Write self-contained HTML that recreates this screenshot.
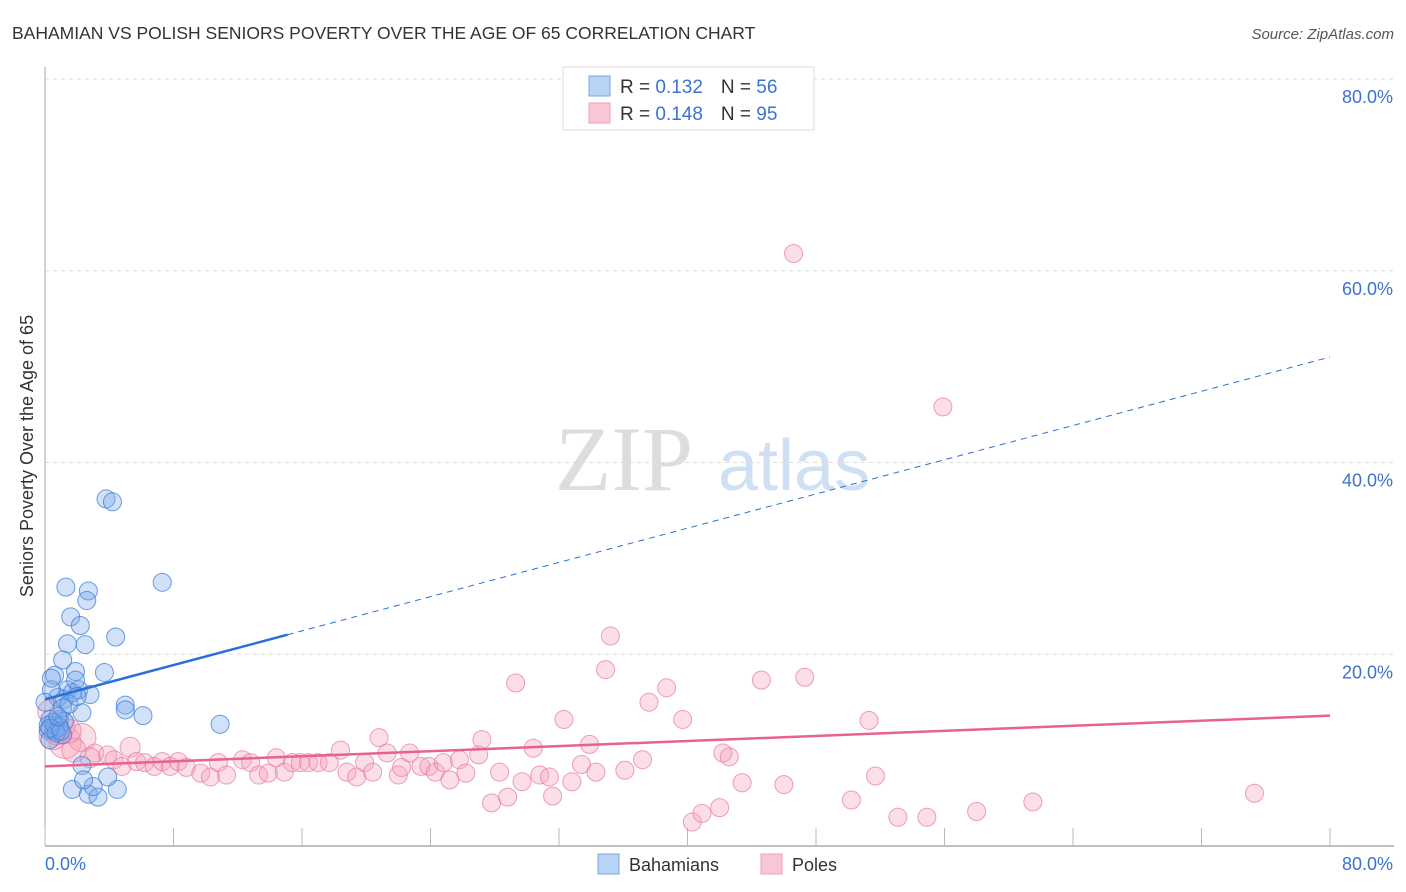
<!DOCTYPE html>
<html><head><meta charset="utf-8"><style>
body{margin:0;background:#fff;width:1406px;height:892px;overflow:hidden;font-family:"Liberation Sans",sans-serif;}
svg{position:absolute;left:0;top:0}
</style></head><body>
<svg id="chart" width="1406" height="892">
<text x="12" y="39" font-size="17.5" fill="#333">BAHAMIAN VS POLISH SENIORS POVERTY OVER THE AGE OF 65 CORRELATION CHART</text>
<text x="1394" y="39" font-size="15" fill="#555" font-style="italic" text-anchor="end">Source: ZipAtlas.com</text>
<text transform="translate(33,456) rotate(-90)" font-size="18" fill="#333" text-anchor="middle">Seniors Poverty Over the Age of 65</text>
<g>
<text x="555" y="490" font-size="92" font-family="Liberation Serif,serif" fill="#ddd">ZIP</text>
<text x="718" y="490" font-size="72" fill="#cfe0f5">atlas</text>
</g>
<g id="grid"></g><g id="axes"></g><g id="pts"></g><g id="lines"></g>
<g>
<rect x="563" y="67" width="251" height="63" fill="#fff" stroke="#ddd"/>
<rect x="589" y="76" width="21" height="20" fill="#b8d4f5" stroke="#7aa8e0"/>
<rect x="589" y="103" width="21" height="20" fill="#f9c6d6" stroke="#eca0b8"/>
<text x="620" y="93" font-size="19" fill="#333">R = <tspan fill="#3b73d1">0.132</tspan><tspan dx="18">N = </tspan><tspan fill="#3b73d1">56</tspan></text>
<text x="620" y="120" font-size="19" fill="#333">R = <tspan fill="#3b73d1">0.148</tspan><tspan dx="18">N = </tspan><tspan fill="#3b73d1">95</tspan></text>
</g>
<g>
<rect x="598" y="854" width="21" height="20" fill="#b8d4f5" stroke="#7aa8e0"/>
<text x="629" y="871" font-size="18" fill="#333">Bahamians</text>
<rect x="761" y="854" width="21" height="20" fill="#f9c6d6" stroke="#eca0b8"/>
<text x="792" y="871" font-size="18" fill="#333">Poles</text>
</g>
</svg>
<script>
const yTicks=[20,40,60,80];
const yTickLabels=["20.0%","40.0%","60.0%","80.0%"];
const xTickValues=[0,8,16,24,32,40,48,56,64,72,80];
const xEndLabels=["0.0%","80.0%"];
const bahX=[3.8,4.2,1.3,2.7,2.6,7.3,1.6,2.2,4.4,1.4,2.5,1.1,3.7,1.9,0.6,1.4,2.1,1.2,2.3,5.0,5.0,6.1,10.9,0.3,0.9,0.2,0.6,1.2,0.3,2.3,1.7,2.7,3.3,3.0,4.5,3.9,2.4,0.8,1.7,0.4,1.1,2.8,1.9,0.0,0.6,1.1,0.2,0.5,0.9,1.5,0.7,0.3,1.0,0.4,2.0,0.8];
const bahY=[36.2,35.9,27.0,26.6,25.6,27.5,23.9,23.0,21.8,21.1,21.0,19.4,18.1,18.2,17.8,16.3,16.3,15.3,13.9,14.7,14.2,13.6,12.7,13.2,13.2,12.1,12.6,13.0,11.1,8.4,5.9,5.4,5.1,6.2,5.9,7.2,6.9,15.5,16.0,16.3,14.4,15.8,17.3,15.0,12.1,11.6,12.6,12.9,12.4,14.8,11.8,12.3,12.0,17.5,15.6,13.5];
const polX=[1.25,2.3,3.1,3.9,4.3,4.8,5.3,5.7,6.2,6.8,7.3,7.8,8.3,8.8,9.7,10.3,10.8,11.3,12.3,12.8,13.3,13.9,14.4,14.9,15.4,15.9,16.4,17.0,17.7,18.4,18.8,19.4,19.9,20.4,20.8,21.3,22.0,22.2,22.7,23.4,23.9,24.3,24.8,25.2,25.8,26.2,27.0,27.2,28.3,27.8,28.8,29.3,29.7,30.4,30.8,31.4,31.6,32.3,32.8,33.4,33.9,34.3,34.9,35.2,36.1,37.2,37.6,38.7,39.7,40.3,40.9,42.0,42.2,42.6,43.4,44.6,46.0,47.3,46.6,50.2,51.3,51.7,53.1,54.9,55.9,58.0,61.5,75.3,0.5,1.0,0.3,1.8,0.7,2.8,1.5];
const polY=[10.8,11.3,9.7,9.5,9.0,8.3,10.3,8.8,8.7,8.3,8.8,8.3,8.8,8.2,7.6,7.2,8.7,7.4,9.0,8.7,7.4,7.6,9.2,7.7,8.7,8.7,8.7,8.7,8.7,10.0,7.7,7.2,8.7,7.7,11.3,9.7,7.4,8.2,9.7,8.3,8.3,7.7,8.7,6.9,9.0,7.6,9.5,11.1,7.7,4.5,5.1,17.0,6.7,10.2,7.4,7.2,5.2,13.2,6.7,8.5,10.6,7.7,18.4,21.9,7.9,9.0,15.0,16.5,13.2,2.5,3.4,4.0,9.7,9.3,6.6,17.3,6.4,17.6,61.8,4.8,13.1,7.3,3.0,3.0,45.8,3.6,4.6,5.5,11.5,12.5,14.0,10.0,11.8,9.2,12.0];
const polR=[16,14,9,9,9,9,10,9,9,9,9,9,9,9,9,9,9,9,9,9,9,9,9,9,9,9,9,9,9,9,9,9,9,9,9,9,9,9,9,9,9,9,9,9,9,9,9,9,9,9,9,9,9,9,9,9,9,9,9,9,9,9,9,9,9,9,9,9,9,9,9,9,9,9,9,9,9,9,9,9,9,9,9,9,9,9,9,9,14,14,12,12,12,10,12];
const bahTrend=[15.3,51.0]; // y at x=0 and x=80
const bahSolidEnd=15.1;
const polTrend=[8.3,13.6];
const X0=45,X1=1330,Y0=846,Y80=79;
const sx=v=>X0+(X1-X0)*v/80;
const sy=v=>Y0-(Y0-Y80)*v/80;
const NS="http://www.w3.org/2000/svg";
function mk(t,p,a){const e=document.createElementNS(NS,t);for(const k in a)e.setAttribute(k,a[k]);p.appendChild(e);return e;}
const grid=document.getElementById('grid'),axes=document.getElementById('axes'),pts=document.getElementById('pts'),lines=document.getElementById('lines');
yTicks.forEach((v,i)=>{
 const l=mk('line',grid,{x1:X0,x2:1394,y1:sy(v),y2:sy(v),stroke:'#ddd','stroke-dasharray':'4,4'});
 
 
 const t=mk('text',grid,{x:1393,y:sy(v)+24,'font-size':18,fill:'#3b73d1','text-anchor':'end'});
 t.textContent=yTickLabels[i];
 
 
});
let a=mk('line',axes,{x1:X0,x2:X0,y1:67,y2:Y0,stroke:'#aaa'});


a=mk('line',axes,{x1:X0,x2:1394,y1:Y0,y2:Y0,stroke:'#aaa','stroke-width':1.5});


xTickValues.forEach(v=>{
 const t=mk('line',axes,{x1:sx(v),x2:sx(v),y1:828,y2:Y0,stroke:'#bbb'});
 
 
});
[[0,'start'],[80,'end']].forEach((p,i)=>{
 const t=mk('text',axes,{x:i?1393:45,y:870,'font-size':18,fill:'#3b73d1','text-anchor':p[1]});
 t.textContent=xEndLabels[i];
 
 
});
polX.forEach((x,i)=>{
 const c=mk('circle',pts,{cx:sx(x),cy:sy(polY[i]),r:polR[i],fill:'rgba(245,160,185,0.35)',stroke:'rgba(232,120,155,0.7)','stroke-width':1});
 
 
});
bahX.forEach((x,i)=>{
 const c=mk('circle',pts,{cx:sx(x),cy:sy(bahY[i]),r:9,fill:'rgba(120,170,235,0.35)',stroke:'rgba(60,125,215,0.75)','stroke-width':1});
 
 
});
const by=x=>bahTrend[0]+(bahTrend[1]-bahTrend[0])*x/80;
let l=mk('line',lines,{x1:sx(0),y1:sy(by(0)),x2:sx(bahSolidEnd),y2:sy(by(bahSolidEnd)),stroke:'#2a6fd6','stroke-width':2.5});


l=mk('line',lines,{x1:sx(bahSolidEnd),y1:sy(by(bahSolidEnd)),x2:sx(80),y2:sy(by(80)),stroke:'#2a6fd6','stroke-width':1,'stroke-dasharray':'6,5'});


l=mk('line',lines,{x1:sx(0),y1:sy(polTrend[0]),x2:sx(80),y2:sy(polTrend[1]),stroke:'#e8628f','stroke-width':2.5});


</script>
</body></html>
